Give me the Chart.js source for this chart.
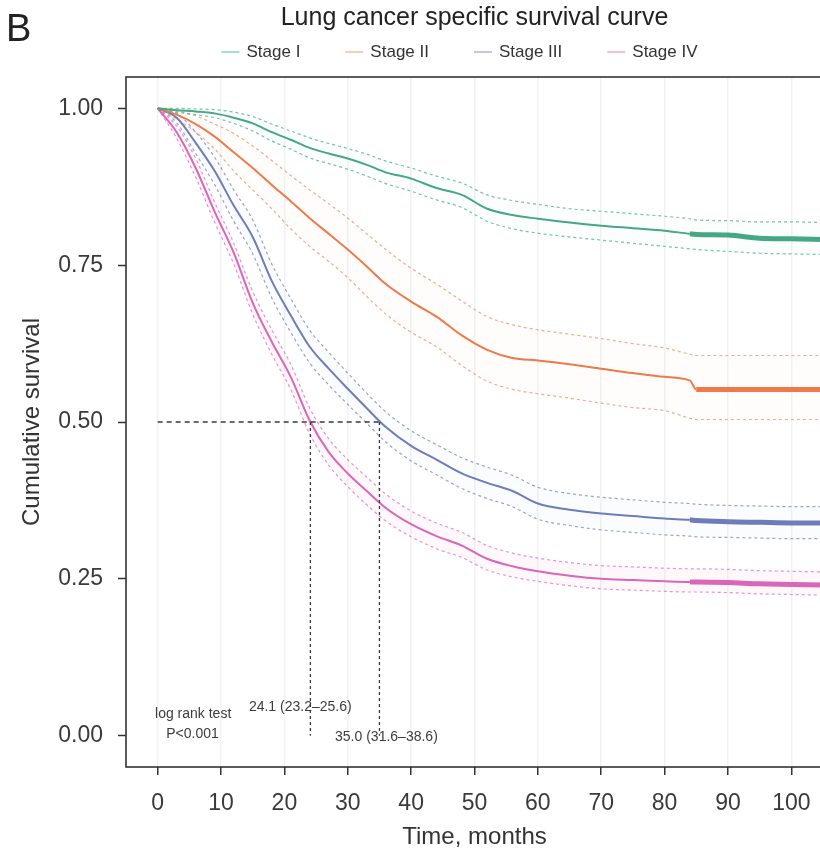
<!DOCTYPE html>
<html>
<head>
<meta charset="utf-8">
<title>Lung cancer specific survival curve</title>
<script src="https://cdn.jsdelivr.net/npm/chart.js@4.4.1/dist/chart.umd.min.js"></script>
<style>
  html, body { margin: 0; padding: 0; background: #fff; overflow: hidden; }
  #wrap { position: relative; width: 830px; height: 854px; }
</style>
</head>
<body>
<div id="wrap"><canvas id="survivalChart" width="830" height="854"></canvas></div>
<script>
// follow-up time grid (months)
const months = [0, 3, 6, 9, 12, 15, 18, 21, 24, 27, 30, 33, 36, 40, 44, 48, 52, 56, 60, 65, 70, 75, 80, 84, 85, 90, 95, 100, 105];

const stageNames = ['Stage I', 'Stage II', 'Stage III', 'Stage IV'];

// Kaplan-Meier estimates with 95% CI, one row per stage
const stage1 = [1, 0.997, 0.995, 0.992, 0.985, 0.976, 0.962, 0.950, 0.937, 0.928, 0.920, 0.910, 0.898, 0.888, 0.873, 0.862, 0.840, 0.830, 0.824, 0.818, 0.813, 0.809, 0.805, 0.800, 0.799, 0.798, 0.793, 0.792, 0.791];
const stage1Upper = [1, 1, 0.999, 0.998, 0.994, 0.987, 0.975, 0.964, 0.953, 0.944, 0.936, 0.927, 0.916, 0.905, 0.892, 0.881, 0.862, 0.853, 0.847, 0.840, 0.836, 0.832, 0.828, 0.824, 0.822, 0.821, 0.819, 0.819, 0.818];
const stage1Lower = [1, 0.994, 0.990, 0.985, 0.976, 0.964, 0.948, 0.935, 0.921, 0.912, 0.903, 0.892, 0.880, 0.868, 0.854, 0.842, 0.820, 0.808, 0.801, 0.795, 0.790, 0.785, 0.780, 0.776, 0.775, 0.772, 0.769, 0.768, 0.767];

const stage2 = [1, 0.990, 0.975, 0.955, 0.930, 0.905, 0.878, 0.852, 0.825, 0.800, 0.775, 0.748, 0.720, 0.692, 0.668, 0.638, 0.615, 0.602, 0.598, 0.592, 0.585, 0.578, 0.572, 0.566, 0.552, 0.552, 0.552, 0.552, 0.552];
const stage2Upper = [1, 0.996, 0.988, 0.975, 0.960, 0.940, 0.917, 0.893, 0.870, 0.848, 0.825, 0.800, 0.775, 0.745, 0.720, 0.693, 0.668, 0.655, 0.647, 0.640, 0.633, 0.625, 0.618, 0.608, 0.606, 0.606, 0.606, 0.606, 0.606];
const stage2Lower = [1, 0.983, 0.962, 0.935, 0.900, 0.870, 0.840, 0.808, 0.780, 0.756, 0.730, 0.700, 0.672, 0.643, 0.620, 0.590, 0.565, 0.552, 0.545, 0.538, 0.530, 0.523, 0.518, 0.506, 0.504, 0.504, 0.504, 0.504, 0.504];

const stage3 = [1, 0.985, 0.945, 0.900, 0.845, 0.795, 0.725, 0.670, 0.620, 0.585, 0.553, 0.522, 0.492, 0.462, 0.440, 0.418, 0.403, 0.390, 0.370, 0.360, 0.354, 0.350, 0.346, 0.344, 0.343, 0.341, 0.340, 0.339, 0.339];
const stage3Upper = [1, 0.992, 0.962, 0.922, 0.870, 0.822, 0.752, 0.697, 0.646, 0.611, 0.578, 0.546, 0.516, 0.486, 0.464, 0.443, 0.428, 0.415, 0.396, 0.386, 0.380, 0.376, 0.372, 0.370, 0.369, 0.367, 0.366, 0.365, 0.365];
const stage3Lower = [1, 0.977, 0.928, 0.878, 0.820, 0.768, 0.698, 0.643, 0.594, 0.559, 0.528, 0.498, 0.468, 0.438, 0.416, 0.394, 0.378, 0.365, 0.345, 0.335, 0.328, 0.324, 0.320, 0.318, 0.317, 0.316, 0.315, 0.314, 0.314];

const stage4 = [1, 0.962, 0.905, 0.835, 0.770, 0.690, 0.628, 0.572, 0.502, 0.452, 0.418, 0.390, 0.363, 0.337, 0.318, 0.303, 0.282, 0.270, 0.262, 0.255, 0.250, 0.248, 0.246, 0.245, 0.245, 0.244, 0.242, 0.241, 0.240];
const stage4Upper = [1, 0.972, 0.920, 0.850, 0.785, 0.708, 0.647, 0.592, 0.522, 0.473, 0.440, 0.412, 0.385, 0.358, 0.339, 0.324, 0.303, 0.291, 0.283, 0.276, 0.271, 0.269, 0.267, 0.266, 0.266, 0.265, 0.263, 0.262, 0.261];
const stage4Lower = [1, 0.952, 0.890, 0.818, 0.752, 0.672, 0.608, 0.552, 0.481, 0.431, 0.397, 0.368, 0.342, 0.317, 0.298, 0.284, 0.264, 0.253, 0.246, 0.239, 0.234, 0.232, 0.230, 0.229, 0.229, 0.228, 0.226, 0.225, 0.224];

// dense censoring from here on (months)
const censorFrom = [83, 85, 83, 83];

// median survival of stage IV and stage III
const medianTimes = [24.1, 35.0];
const medianLabels = ['24.1 (23.2\u201325.6)', '35.0 (31.6\u201338.6)'];
const testLabels = ['log rank test', 'P<0.001'];

const xTicks = [0, 10, 20, 30, 40, 50, 60, 70, 80, 90, 100];
const yTicks = [0, 0.25, 0.5, 0.75, 1];

const estimates = [stage1, stage2, stage3, stage4];
const uppers = [stage1Upper, stage2Upper, stage3Upper, stage4Upper];
const lowers = [stage1Lower, stage2Lower, stage3Lower, stage4Lower];

const lineColors = ['#45a882', '#ee7a49', '#6f7cba', '#da66b8'];
const ciColors = ['rgba(80,180,145,0.8)', 'rgba(240,140,95,0.75)', 'rgba(120,132,190,0.75)', 'rgba(225,110,190,0.75)'];
const bandColors = ['rgba(102,194,165,0.025)', 'rgba(252,141,98,0.02)', 'rgba(141,160,203,0.03)', 'rgba(231,138,195,0.06)'];

const FONT = '"Liberation Sans", Arial, Helvetica, sans-serif';

const toPoints = ys => months.map((m, i) => ({ x: m, y: ys[i] }));

const datasets = [];
stageNames.forEach((name, s) => {
  datasets.push({
    label: name + ' upper',
    data: toPoints(uppers[s]),
    borderColor: ciColors[s],
    borderWidth: 1.2,
    borderDash: [3, 3],
    pointRadius: 0,
    fill: false,
    order: 3
  });
  datasets.push({
    label: name + ' lower',
    data: toPoints(lowers[s]),
    borderColor: ciColors[s],
    backgroundColor: bandColors[s],
    borderWidth: 1.2,
    borderDash: [3, 3],
    pointRadius: 0,
    fill: '-1',
    order: 3
  });
  datasets.push({
    label: name,
    data: toPoints(estimates[s]),
    borderColor: lineColors[s],
    borderWidth: 2,
    pointRadius: 0,
    fill: false,
    order: 1,
    segment: {
      // stacked censor ticks make the tail look like a thick band
      borderWidth: ctx => (ctx.p0.parsed.x >= censorFrom[s] ? 5 : undefined)
    }
  });
});

// dashed guides to the median survival times
const medianGuide = {
  borderColor: '#3a3a3a',
  borderWidth: 1.3,
  pointRadius: 0,
  fill: false,
  cubicInterpolationMode: 'default',
  order: 0
};
datasets.push(Object.assign({}, medianGuide, {
  label: 'median h',
  data: [{ x: 0, y: 0.5 }, { x: medianTimes[1], y: 0.5 }],
  borderDash: [5, 4]
}));
medianTimes.forEach((t, i) => {
  datasets.push(Object.assign({}, medianGuide, {
    label: 'median v' + i,
    data: [{ x: t, y: 0.5 }, { x: t, y: 0 }],
    borderDash: [3, 3]
  }));
});

const panelBorder = {
  id: 'panelBorder',
  afterDatasetsDraw(chart) {
    const { ctx, chartArea: a } = chart;
    ctx.save();
    ctx.strokeStyle = '#333';
    ctx.lineWidth = 1.6;
    ctx.strokeRect(a.left, a.top, a.right - a.left, a.bottom - a.top);
    ctx.restore();
  }
};

const extras = {
  id: 'extras',
  afterDraw(chart) {
    const { ctx, chartArea: a, scales } = chart;
    const xs = scales.x, ys = scales.y;
    ctx.save();

    // panel letter
    ctx.fillStyle = '#222';
    ctx.font = '38px ' + FONT;
    ctx.textAlign = 'left';
    ctx.textBaseline = 'alphabetic';
    ctx.fillText('B', 6, 41);

    // legend row
    ctx.font = '17px ' + FONT;
    ctx.textBaseline = 'middle';
    const keyW = 18, keyGap = 7, itemGap = 45;
    const widths = stageNames.map(n => keyW + keyGap + ctx.measureText(n).width);
    const total = widths.reduce((p, w) => p + w, 0) + itemGap * (stageNames.length - 1);
    let x = (a.left + a.right) / 2 - 15 - total / 2;
    const ly = 52;
    stageNames.forEach((n, s) => {
      ctx.strokeStyle = ciColors[s];
      ctx.globalAlpha = 0.6;
      ctx.lineWidth = 2;
      ctx.beginPath();
      ctx.moveTo(x, ly);
      ctx.lineTo(x + keyW, ly);
      ctx.stroke();
      ctx.globalAlpha = 1;
      ctx.fillStyle = '#333';
      ctx.fillText(n, x + keyW + keyGap, ly);
      x += widths[s] + itemGap;
    });

    // test result and median labels
    ctx.font = '14px ' + FONT;
    ctx.fillStyle = '#3c3c3c';
    ctx.textAlign = 'center';
    const notes = [
      { text: testLabels[0], t: 5.6, v: 0.034 },
      { text: testLabels[1], t: 5.5, v: 0.002 },
      { text: medianLabels[0], t: medianTimes[0] - 1.6, v: 0.045 },
      { text: medianLabels[1], t: medianTimes[1] + 1.1, v: -0.003 }
    ];
    notes.forEach(n => ctx.fillText(n.text, xs.getPixelForValue(n.t), ys.getPixelForValue(n.v)));
    ctx.restore();
  }
};

new Chart(document.getElementById('survivalChart'), {
  type: 'line',
  data: { datasets },
  options: {
    responsive: false,
    animation: false,
    layout: { padding: { left: 0, right: 7, top: 0, bottom: 0 } },
    elements: { line: { cubicInterpolationMode: 'monotone' } },
    plugins: {
      legend: { display: false },
      tooltip: { enabled: false },
      title: {
        display: true,
        text: 'Lung cancer specific survival curve',
        fullSize: false,
        color: '#222',
        font: { family: FONT, size: 25, weight: 'normal', lineHeight: 1.2 },
        padding: { top: 3, bottom: 44 }
      }
    },
    scales: {
      x: {
        type: 'linear',
        min: -5,
        max: 105,
        afterFit: scale => { scale.height = 87; },
        afterBuildTicks: scale => { scale.ticks = xTicks.map(v => ({ value: v })); },
        border: { display: false },
        grid: {
          color: '#f2f2f2',
          lineWidth: 1.5,
          drawOnChartArea: true,
          tickColor: '#333',
          tickLength: 8,
          tickWidth: 1.5
        },
        ticks: {
          color: '#3a3a3a',
          padding: 15,
          font: { family: FONT, size: 23 },
          callback: v => String(v)
        },
        title: {
          display: true,
          text: 'Time, months',
          color: '#333',
          font: { family: FONT, size: 24, lineHeight: 1.2 },
          padding: { top: 0, bottom: 2 }
        }
      },
      y: {
        type: 'linear',
        min: -0.05,
        max: 1.05,
        afterFit: scale => { scale.width = 126; },
        afterBuildTicks: scale => { scale.ticks = yTicks.map(v => ({ value: v })); },
        border: { display: false },
        grid: {
          drawOnChartArea: false,
          tickColor: '#333',
          tickLength: 8,
          tickWidth: 1.5
        },
        ticks: {
          color: '#3a3a3a',
          padding: 15,
          font: { family: FONT, size: 23 },
          callback: v => v.toFixed(2)
        },
        title: {
          display: true,
          text: 'Cumulative survival',
          color: '#333',
          font: { family: FONT, size: 24, lineHeight: 1.2 },
          padding: { top: 18, bottom: 0 }
        }
      }
    }
  },
  plugins: [panelBorder, extras]
});
</script>
</body>
</html>
